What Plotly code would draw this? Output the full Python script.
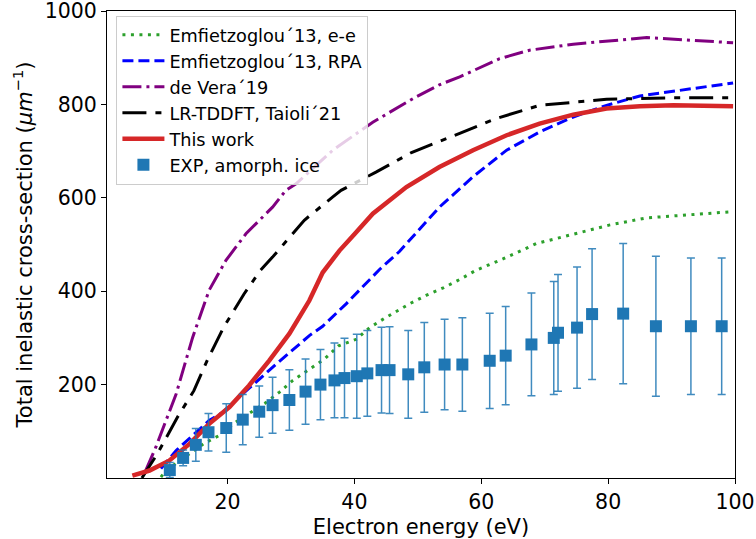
import plotly.graph_objects as go

# Electron energy (eV) / cross-section (1/um) for each model
ee_energy = [9.5, 10.3, 16.2, 18.7, 21.0, 23.4, 25.9, 28.2, 30.3, 32.8, 35.3, 37.5, 40.3,
             42.4, 45.0, 48.7, 51.3, 54.0, 56.6, 59.2, 63.4, 68.7, 74.0, 80.3, 86.1, 92.4, 99.2]
ee_sigma = [2, 16, 73, 91, 117, 139, 160, 184, 209, 232, 255, 283, 297,
            322, 344, 373, 391, 407, 425, 445, 469, 502, 521, 542, 557, 564, 570]

rpa_energy = [9.5, 11.9, 17.1, 19.2, 22.4, 24.0, 27.6, 29.75, 32.9, 35.0, 38.7, 44.0, 47.1,
              53.4, 58.7, 64.0, 69.2, 74.5, 79.75, 85.0, 90.3, 99.7]
rpa_sigma = [20, 59, 123, 140, 180, 200, 243, 268, 305, 325, 373, 447, 485,
             580, 645, 702, 741, 773, 798, 818, 828, 846]

vera_energy = [7.1, 8.7, 11.9, 14.5, 17.1, 19.75, 22.9, 27.1, 29.2, 30.8, 36.6, 42.9,
               49.7, 53.4, 56.6, 62.9, 67.6, 74.5, 86.1, 99.7]
vera_sigma = [16, 66, 180, 301, 402, 466, 523, 580, 616, 630, 702, 762,
              816, 842, 859, 898, 916, 929, 943, 932]

tddft_energy = [6.5, 8.95, 12.1, 14.7, 16.8, 19.4, 22.6, 25.2, 27.1, 28.4, 32.1, 36.6, 37.9,
                43.4, 49.0, 56.6, 58.7, 62.4, 69.2, 79.75, 90.3, 99.7]
tddft_sigma = [0, 52, 130, 187, 252, 323, 394, 445, 473, 494, 552, 602, 616,
               655, 697, 738, 750, 770, 798, 811, 814, 814]

work_energy = [5.0, 7.7, 10.8, 14.0, 17.1, 20.3, 23.4, 26.6, 29.75, 32.9, 35.0, 37.65, 40.0,
               42.9, 48.2, 53.4, 58.7, 64.0, 69.2, 74.5, 79.75, 85.0, 90.3, 99.7]
work_sigma = [5, 16, 37, 73, 116, 152, 198, 252, 309, 380, 440, 487, 522,
              566, 623, 666, 702, 734, 759, 778, 791, 796, 798, 796]

# Experimental data, amorphous ice
exp_energy = [10.9, 13.0, 15.0, 17.0, 19.8, 22.4, 25.0, 27.1, 29.75, 32.3, 34.65, 36.86,
              38.44, 40.38, 42.04, 44.28, 45.54, 48.49, 51.02, 54.22, 57.02, 61.33, 63.85,
              67.91, 71.43, 72.1, 75.1, 77.47, 82.37, 87.53, 93.05, 97.9]
exp_sigma = [17, 43, 71, 98, 107, 125, 142, 156, 167, 185, 200, 209,
             214, 218, 224, 231, 231, 222, 237, 243, 243, 251, 262,
             286, 300, 311, 322, 351, 352, 325, 325, 325]
exp_error = [16, 17, 35, 40, 52, 54, 55, 60, 65, 70, 75, 80,
             85, 90, 92, 92, 93, 94, 96, 97, 100, 102, 105,
             110, 121, 125, 130, 140, 150, 150, 146, 146]

x_ticks = [20, 40, 60, 80, 100]
y_ticks = [200, 400, 600, 800, 1000]

FONT = "DejaVu Sans, Verdana, sans-serif"
TICK_FONT = 20.5
TITLE_FONT = 21
LEGEND_FONT = 17.7

fig = go.Figure()

fig.add_trace(go.Scatter(
    x=ee_energy, y=ee_sigma, mode="lines", name="Emfietzoglou´13, e-e",
    line=dict(color="#2ca02c", width=3, dash="3px,5.5px")))
fig.add_trace(go.Scatter(
    x=rpa_energy, y=rpa_sigma, mode="lines", name="Emfietzoglou´13, RPA",
    line=dict(color="#0000ff", width=3, dash="11px,5px")))
fig.add_trace(go.Scatter(
    x=vera_energy, y=vera_sigma, mode="lines", name="de Vera´19",
    line=dict(color="#800080", width=3, dash="19px,5px,3px,5px")))
fig.add_trace(go.Scatter(
    x=tddft_energy, y=tddft_sigma, mode="lines", name="LR-TDDFT, Taioli´21",
    line=dict(color="black", width=3, dash="24px,9px,6px,9px")))
fig.add_trace(go.Scatter(
    x=work_energy, y=work_sigma, mode="lines", name="This work",
    line=dict(color="#d62728", width=4.5)))
fig.add_trace(go.Scatter(
    x=exp_energy, y=exp_sigma, mode="markers", name="EXP, amorph. ice",
    marker=dict(symbol="square", size=12, color="#1f77b4"),
    error_y=dict(type="data", array=exp_error, visible=True,
                 color="rgba(31,119,180,0.85)", thickness=1.5, width=4)))

axis_common = dict(
    showline=True, linecolor="black", linewidth=1.2, mirror=True,
    ticks="outside", ticklen=5, tickwidth=1, tickcolor="black",
    showgrid=False, zeroline=False, automargin=False,
    ticklabeloverflow="allow",
    tickfont=dict(family=FONT, size=TICK_FONT, color="black"),
)

fig.update_xaxes(
    range=[1, 100], tickvals=x_ticks,
    title=dict(text="Electron energy (eV)", font=dict(family=FONT, size=TITLE_FONT, color="black")),
    **axis_common)
fig.update_yaxes(
    range=[0, 1000], tickvals=y_ticks,
    title=dict(text="Total inelastic cross-section (<i>μm</i><sup>−1</sup>)",
               font=dict(family=FONT, size=TITLE_FONT, color="black"), standoff=6),
    **axis_common)

fig.update_layout(
    width=756, height=539,
    margin=dict(l=107, r=21, t=11, b=61),
    paper_bgcolor="white", plot_bgcolor="white",
    font=dict(family=FONT, color="black"),
    legend=dict(
        x=0.015, y=0.99, xanchor="left", yanchor="top",
        bgcolor="rgba(255,255,255,0.8)", bordercolor="#cccccc", borderwidth=1,
        font=dict(family=FONT, size=LEGEND_FONT, color="black"),
        itemwidth=42,
    ),
)

fig.write_html("out.html")
